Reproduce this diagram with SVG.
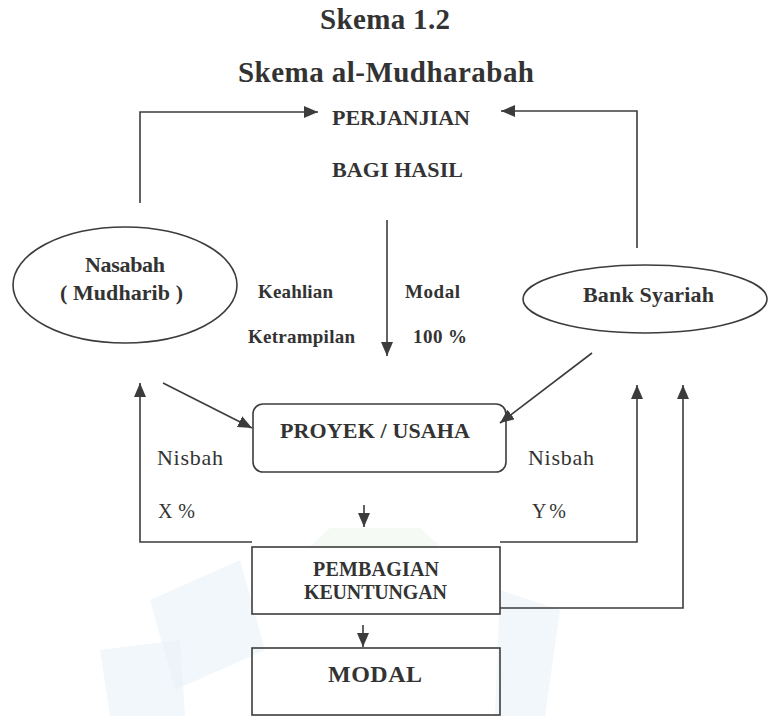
<svg xmlns="http://www.w3.org/2000/svg" width="769" height="716" viewBox="0 0 769 716">
<style>
.bg{fill:#ffffff}
.wm{fill:#e9f1f8;opacity:0.6}
.ln{fill:none;stroke:#3c3c3c;stroke-width:1.6}
.shape{fill:none;stroke:#3c3c3c;stroke-width:1.6}
.tb{font-family:"Liberation Serif","Times New Roman",serif;font-weight:bold;fill:#333333}
.tr{font-family:"Liberation Serif","Times New Roman",serif;fill:#333333}
</style>
<defs>
<marker id="ah" viewBox="0 0 14 12" refX="14" refY="6" markerWidth="14" markerHeight="12" markerUnits="userSpaceOnUse" orient="auto">
<path d="M0,0 L14,6 L0,12 z" fill="#3c3c3c"/>
</marker>
</defs>
<rect class="bg" x="0" y="0" width="769" height="716"/>
<g id="watermark">
<polygon class="wm" points="150,600 240,560 265,650 175,690"/>
<polygon class="wm" points="100,650 180,640 185,716 110,716"/>
<polygon class="wm" points="500,590 560,610 545,716 495,716"/>
<polygon class="wm" points="330,528 420,528 440,546 310,546" style="fill:#eef6ec"/>
</g>
<g id="titles">
<text class="tb" x="320" y="29" font-size="29" textLength="130">Skema 1.2</text>
<text class="tb" x="238" y="82" font-size="29" textLength="296">Skema al-Mudharabah</text>
</g>
<g id="perjanjian">
<text class="tb" x="332" y="125" font-size="22" textLength="138">PERJANJIAN</text>
<text class="tb" x="332" y="177" font-size="22" textLength="131">BAGI HASIL</text>
</g>
<g id="nasabah">
<ellipse class="shape" cx="125" cy="285" rx="112" ry="58"/>
<text class="tb" x="85" y="272" font-size="22" textLength="80">Nasabah</text>
<text class="tb" x="60" y="300" font-size="22" textLength="123">( Mudharib )</text>
</g>
<g id="bank">
<ellipse class="shape" cx="645" cy="299" rx="122" ry="34"/>
<text class="tb" x="583" y="302" font-size="22" textLength="131">Bank Syariah</text>
</g>
<g id="proyek">
<rect class="shape" x="253" y="404" width="253" height="68" rx="10"/>
<text class="tb" x="280" y="438" font-size="22" textLength="190">PROYEK / USAHA</text>
</g>
<g id="pembagian">
<rect class="shape" x="252" y="547" width="248" height="67"/>
<text class="tb" x="313" y="576" font-size="20" textLength="126">PEMBAGIAN</text>
<text class="tb" x="304" y="599" font-size="20" textLength="143">KEUNTUNGAN</text>
</g>
<g id="modal">
<rect class="shape" x="252" y="648" width="248" height="67"/>
<text class="tb" x="328" y="682" font-size="24" textLength="94">MODAL</text>
</g>
<g id="labels">
<text class="tb" x="258" y="298" font-size="19" textLength="75">Keahlian</text>
<text class="tb" x="248" y="343" font-size="19" textLength="107">Ketrampilan</text>
<text class="tb" x="405" y="298" font-size="19" textLength="55">Modal</text>
<text class="tb" x="413" y="343" font-size="19" textLength="54">100 %</text>
<text class="tr" x="157" y="465" font-size="22" textLength="66">Nisbah</text>
<text class="tr" x="158" y="518" font-size="20" textLength="37">X %</text>
<text class="tr" x="528" y="465" font-size="22" textLength="66">Nisbah</text>
<text class="tr" x="532" y="518" font-size="20" textLength="34">Y %</text>
</g>
<g id="connectors">
<path class="ln" d="M140,203 V112 H318" marker-end="url(#ah)"/>
<path class="ln" d="M637,248 V111 H501" marker-end="url(#ah)"/>
<path class="ln" d="M387,220 V356" marker-end="url(#ah)"/>
<path class="ln" d="M163,383 L252,428" marker-end="url(#ah)"/>
<path class="ln" d="M592,353 L500,423" marker-end="url(#ah)"/>
<path class="ln" d="M252,542 H140 V383" marker-end="url(#ah)"/>
<path class="ln" d="M500,542 H637 V385" marker-end="url(#ah)"/>
<path class="ln" d="M500,608 H683 V385" marker-end="url(#ah)"/>
<path class="ln" d="M364,505 V527" marker-end="url(#ah)"/>
<path class="ln" d="M363,625 V647" marker-end="url(#ah)"/>
</g>
</svg>
